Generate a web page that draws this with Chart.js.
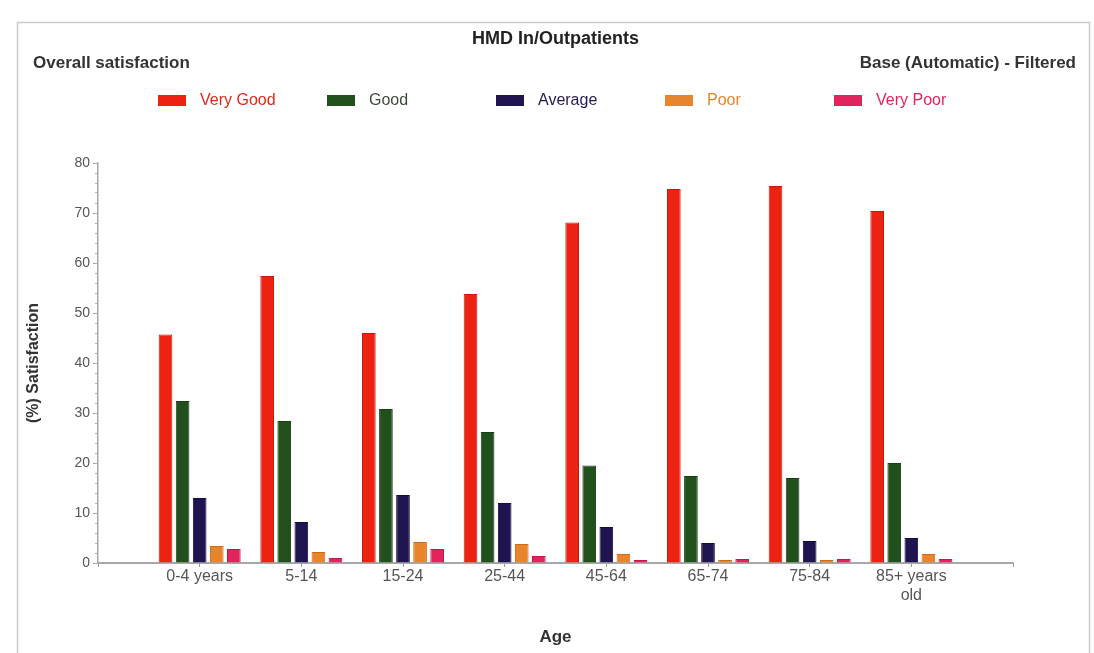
<!DOCTYPE html>
<html>
<head>
<meta charset="utf-8">
<title>HMD In/Outpatients</title>
<script src="https://cdn.jsdelivr.net/npm/chart.js@4/dist/chart.umd.min.js"></script>
<style>
  html, body { margin: 0; padding: 0; background: #fff; }
  #wrap { position: relative; width: 1094px; height: 653px; }
</style>
</head>
<body>
<div id="wrap"><canvas id="chart" width="1094" height="653"></canvas></div>
<script>
// Age bands (the last one wraps onto two lines)
const categories = ['0-4 years', '5-14', '15-24', '25-44', '45-64', '65-74', '75-84', ['85+ years', 'old']];

// Satisfaction ratings, percent of respondents per age band
const seriesNames = ['Very Good', 'Good', 'Average', 'Poor', 'Very Poor'];
const veryGood = [45.7, 57.4, 46.0, 53.8, 68.1, 74.8, 75.4, 70.4];
const good     = [32.4, 28.4, 30.8, 26.2, 19.5, 17.4, 17.0, 20.0];
const average  = [13.0,  8.2, 13.6, 12.0,  7.2,  4.0,  4.4,  5.0];
const poor     = [ 3.4,  2.2,  4.2,  3.8,  1.8,  0.6,  0.6,  1.8];
const veryPoor = [ 2.8,  1.0,  2.8,  1.4,  0.6,  0.8,  0.8,  0.8];

// Value axis
const yMin = 0;
const yMax = 80;
const yMajorStep = 10;
const yMinorStep = 2;

const chartTitle = 'HMD In/Outpatients';
const leftHeading = 'Overall satisfaction';
const rightHeading = 'Base (Automatic) - Filtered';
const xTitle = 'Age';
const yTitle = '(%) Satisfaction';

const seriesColors = ['#ee2212', '#22501c', '#201450', '#e8842c', '#e2245e'];
const seriesBorders = ['#c81a0c', '#183d14', '#150c3a', '#c96c1c', '#c01848'];
const legendTextColors = ['#e0281c', '#3b4a38', '#241a52', '#e8842c', '#e2245e'];

const FONT = '"Liberation Sans", Arial, sans-serif';

// an empty slot either side of the age bands keeps a gap at both ends of the axis
const axisLabels = [''].concat(categories, ['']);
const padded = arr => [null].concat(arr, [null]);
const seriesValues = [veryGood, good, average, poor, veryPoor];

const datasets = seriesNames.map((name, i) => ({
  label: name,
  data: padded(seriesValues[i]),
  backgroundColor: seriesColors[i],
  borderColor: seriesBorders[i],
  borderWidth: 1,
  categoryPercentage: 0.84,
  barPercentage: 0.8
}));

// Frame, headings and the legend row above the plot
const decor = {
  id: 'decor',
  beforeDraw(chart) {
    const ctx = chart.ctx;
    ctx.save();
    ctx.fillStyle = '#ffffff';
    ctx.fillRect(0, 0, chart.width, chart.height);
    ctx.strokeStyle = '#c9c9c9';
    ctx.lineWidth = 1.5;
    ctx.beginPath();
    ctx.moveTo(17.5, chart.height + 2);
    ctx.lineTo(17.5, 22.5);
    ctx.lineTo(1089.5, 22.5);
    ctx.lineTo(1089.5, chart.height + 2);
    ctx.stroke();
    ctx.restore();
  },
  afterDraw(chart) {
    const ctx = chart.ctx;
    const area = chart.chartArea;
    ctx.save();
    ctx.textBaseline = 'middle';

    ctx.fillStyle = '#222';
    ctx.font = 'bold 18px ' + FONT;
    ctx.textAlign = 'center';
    ctx.fillText(chartTitle, (area.left + area.right) / 2, 39);

    ctx.fillStyle = '#333';
    ctx.font = 'bold 17px ' + FONT;
    ctx.textAlign = 'left';
    ctx.fillText(leftHeading, 33, 63);
    ctx.textAlign = 'right';
    ctx.fillText(rightHeading, 1076, 63);

    ctx.font = '16px ' + FONT;
    ctx.textAlign = 'left';
    chart.data.datasets.forEach((ds, i) => {
      const x = 158 + i * 169;
      ctx.fillStyle = ds.backgroundColor;
      ctx.fillRect(x, 95, 28, 11);
      ctx.fillStyle = legendTextColors[i];
      ctx.fillText(ds.label, x + 42, 101);
    });
    ctx.restore();
  }
};

new Chart(document.getElementById('chart'), {
  type: 'bar',
  data: { labels: axisLabels, datasets },
  options: {
    responsive: false,
    devicePixelRatio: 1,
    animation: false,
    layout: { padding: { top: 163, left: 22, right: 81, bottom: 0 } },
    plugins: {
      legend: { display: false },
      title: { display: false },
      tooltip: { enabled: false }
    },
    scales: {
      x: {
        offset: false,
        grid: { display: true, offset: false, drawOnChartArea: false, drawTicks: true, tickLength: 4, color: '#9a9a9a' },
        border: { display: true, color: '#a8a8a8', width: 2 },
        ticks: {
          autoSkip: false,
          maxRotation: 0,
          padding: 0,
          color: '#555',
          font: { family: FONT, size: 16 },
          lineHeight: 1.05
        },
        title: {
          display: true,
          text: xTitle,
          color: '#333',
          font: { family: FONT, size: 17, weight: 'bold' },
          padding: { top: 0, bottom: 5 }
        },
        afterFit(scale) { scale.height = 90; }
      },
      y: {
        weight: 1,
        min: yMin,
        max: yMax,
        grid: { display: true, drawOnChartArea: false, drawTicks: true, tickLength: 5, color: '#9a9a9a' },
        border: { display: true, color: '#a8a8a8', width: 1.5 },
        ticks: {
          stepSize: yMajorStep,
          padding: 3,
          color: '#555',
          font: { family: FONT, size: 14 }
        },
        title: {
          display: true,
          text: yTitle,
          color: '#333',
          font: { family: FONT, size: 16, weight: 'bold' },
          padding: { top: 2, bottom: 0 }
        },
        afterFit(scale) { scale.width = 76; }
      },
      yMinor: {
        position: 'left',
        weight: 0,
        min: yMin,
        max: yMax,
        grid: { display: true, drawOnChartArea: false, drawTicks: true, tickLength: 3, color: '#b0b0b0' },
        border: { display: false },
        ticks: { stepSize: yMinorStep, display: false },
        afterFit(scale) { scale.width = 0; }
      }
    }
  },
  plugins: [decor]
});
</script>
</body>
</html>
